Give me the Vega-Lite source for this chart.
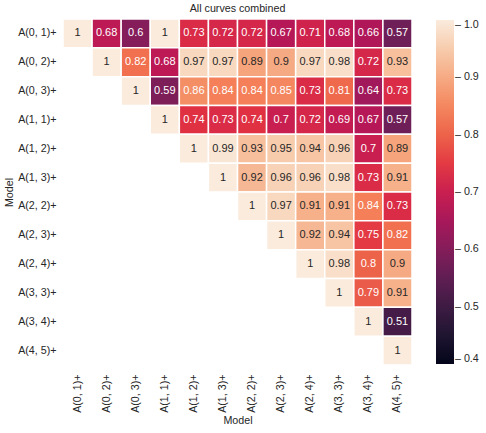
{
  "$schema": "https://vega.github.io/schema/vega-lite/v6.json",
  "width": 349,
  "height": 346,
  "autosize": "none",
  "padding": {"left": 63, "top": 19, "right": 74, "bottom": 68},
  "background": "white",
  "config": {
    "view": {"stroke": null},
    "font": "Liberation Sans",
    "axis": {"labelFont": "Liberation Sans", "titleFont": "Liberation Sans", "labelFontSize": 10.7, "titleFontSize": 10.7, "labelColor": "#262626", "titleColor": "#262626", "titleFontWeight": "normal", "ticks": false, "domain": false, "grid": false},
    "legend": {"labelFont": "Liberation Sans", "labelFontSize": 10.7, "labelColor": "#262626"}
  },
  "title": {"text": "All curves combined", "fontSize": 10.7, "fontWeight": "normal", "color": "#262626", "offset": 4, "font": "Liberation Sans"},
  "data": {"values": [
    {"r": "A(0, 1)+", "c": "A(0, 1)+", "v": 1},
    {"r": "A(0, 1)+", "c": "A(0, 2)+", "v": 0.68},
    {"r": "A(0, 1)+", "c": "A(0, 3)+", "v": 0.6},
    {"r": "A(0, 1)+", "c": "A(1, 1)+", "v": 1},
    {"r": "A(0, 1)+", "c": "A(1, 2)+", "v": 0.73},
    {"r": "A(0, 1)+", "c": "A(1, 3)+", "v": 0.72},
    {"r": "A(0, 1)+", "c": "A(2, 2)+", "v": 0.72},
    {"r": "A(0, 1)+", "c": "A(2, 3)+", "v": 0.67},
    {"r": "A(0, 1)+", "c": "A(2, 4)+", "v": 0.71},
    {"r": "A(0, 1)+", "c": "A(3, 3)+", "v": 0.68},
    {"r": "A(0, 1)+", "c": "A(3, 4)+", "v": 0.66},
    {"r": "A(0, 1)+", "c": "A(4, 5)+", "v": 0.57},
    {"r": "A(0, 2)+", "c": "A(0, 2)+", "v": 1},
    {"r": "A(0, 2)+", "c": "A(0, 3)+", "v": 0.82},
    {"r": "A(0, 2)+", "c": "A(1, 1)+", "v": 0.68},
    {"r": "A(0, 2)+", "c": "A(1, 2)+", "v": 0.97},
    {"r": "A(0, 2)+", "c": "A(1, 3)+", "v": 0.97},
    {"r": "A(0, 2)+", "c": "A(2, 2)+", "v": 0.89},
    {"r": "A(0, 2)+", "c": "A(2, 3)+", "v": 0.9},
    {"r": "A(0, 2)+", "c": "A(2, 4)+", "v": 0.97},
    {"r": "A(0, 2)+", "c": "A(3, 3)+", "v": 0.98},
    {"r": "A(0, 2)+", "c": "A(3, 4)+", "v": 0.72},
    {"r": "A(0, 2)+", "c": "A(4, 5)+", "v": 0.93},
    {"r": "A(0, 3)+", "c": "A(0, 3)+", "v": 1},
    {"r": "A(0, 3)+", "c": "A(1, 1)+", "v": 0.59},
    {"r": "A(0, 3)+", "c": "A(1, 2)+", "v": 0.86},
    {"r": "A(0, 3)+", "c": "A(1, 3)+", "v": 0.84},
    {"r": "A(0, 3)+", "c": "A(2, 2)+", "v": 0.84},
    {"r": "A(0, 3)+", "c": "A(2, 3)+", "v": 0.85},
    {"r": "A(0, 3)+", "c": "A(2, 4)+", "v": 0.73},
    {"r": "A(0, 3)+", "c": "A(3, 3)+", "v": 0.81},
    {"r": "A(0, 3)+", "c": "A(3, 4)+", "v": 0.64},
    {"r": "A(0, 3)+", "c": "A(4, 5)+", "v": 0.73},
    {"r": "A(1, 1)+", "c": "A(1, 1)+", "v": 1},
    {"r": "A(1, 1)+", "c": "A(1, 2)+", "v": 0.74},
    {"r": "A(1, 1)+", "c": "A(1, 3)+", "v": 0.73},
    {"r": "A(1, 1)+", "c": "A(2, 2)+", "v": 0.74},
    {"r": "A(1, 1)+", "c": "A(2, 3)+", "v": 0.7},
    {"r": "A(1, 1)+", "c": "A(2, 4)+", "v": 0.72},
    {"r": "A(1, 1)+", "c": "A(3, 3)+", "v": 0.69},
    {"r": "A(1, 1)+", "c": "A(3, 4)+", "v": 0.67},
    {"r": "A(1, 1)+", "c": "A(4, 5)+", "v": 0.57},
    {"r": "A(1, 2)+", "c": "A(1, 2)+", "v": 1},
    {"r": "A(1, 2)+", "c": "A(1, 3)+", "v": 0.99},
    {"r": "A(1, 2)+", "c": "A(2, 2)+", "v": 0.93},
    {"r": "A(1, 2)+", "c": "A(2, 3)+", "v": 0.95},
    {"r": "A(1, 2)+", "c": "A(2, 4)+", "v": 0.94},
    {"r": "A(1, 2)+", "c": "A(3, 3)+", "v": 0.96},
    {"r": "A(1, 2)+", "c": "A(3, 4)+", "v": 0.7},
    {"r": "A(1, 2)+", "c": "A(4, 5)+", "v": 0.89},
    {"r": "A(1, 3)+", "c": "A(1, 3)+", "v": 1},
    {"r": "A(1, 3)+", "c": "A(2, 2)+", "v": 0.92},
    {"r": "A(1, 3)+", "c": "A(2, 3)+", "v": 0.96},
    {"r": "A(1, 3)+", "c": "A(2, 4)+", "v": 0.96},
    {"r": "A(1, 3)+", "c": "A(3, 3)+", "v": 0.98},
    {"r": "A(1, 3)+", "c": "A(3, 4)+", "v": 0.73},
    {"r": "A(1, 3)+", "c": "A(4, 5)+", "v": 0.91},
    {"r": "A(2, 2)+", "c": "A(2, 2)+", "v": 1},
    {"r": "A(2, 2)+", "c": "A(2, 3)+", "v": 0.97},
    {"r": "A(2, 2)+", "c": "A(2, 4)+", "v": 0.91},
    {"r": "A(2, 2)+", "c": "A(3, 3)+", "v": 0.91},
    {"r": "A(2, 2)+", "c": "A(3, 4)+", "v": 0.84},
    {"r": "A(2, 2)+", "c": "A(4, 5)+", "v": 0.73},
    {"r": "A(2, 3)+", "c": "A(2, 3)+", "v": 1},
    {"r": "A(2, 3)+", "c": "A(2, 4)+", "v": 0.92},
    {"r": "A(2, 3)+", "c": "A(3, 3)+", "v": 0.94},
    {"r": "A(2, 3)+", "c": "A(3, 4)+", "v": 0.75},
    {"r": "A(2, 3)+", "c": "A(4, 5)+", "v": 0.82},
    {"r": "A(2, 4)+", "c": "A(2, 4)+", "v": 1},
    {"r": "A(2, 4)+", "c": "A(3, 3)+", "v": 0.98},
    {"r": "A(2, 4)+", "c": "A(3, 4)+", "v": 0.8},
    {"r": "A(2, 4)+", "c": "A(4, 5)+", "v": 0.9},
    {"r": "A(3, 3)+", "c": "A(3, 3)+", "v": 1},
    {"r": "A(3, 3)+", "c": "A(3, 4)+", "v": 0.79},
    {"r": "A(3, 3)+", "c": "A(4, 5)+", "v": 0.91},
    {"r": "A(3, 4)+", "c": "A(3, 4)+", "v": 1},
    {"r": "A(3, 4)+", "c": "A(4, 5)+", "v": 0.51},
    {"r": "A(4, 5)+", "c": "A(4, 5)+", "v": 1}
  ]},
  "encoding": {
    "x": {"field": "c", "type": "nominal", "scale": {"domain": ["A(0, 1)+", "A(0, 2)+", "A(0, 3)+", "A(1, 1)+", "A(1, 2)+", "A(1, 3)+", "A(2, 2)+", "A(2, 3)+", "A(2, 4)+", "A(3, 3)+", "A(3, 4)+", "A(4, 5)+"], "paddingInner": 0, "paddingOuter": 0}, "axis": {"title": "Model", "labelAngle": -90, "labelPadding": 9, "titlePadding": 3}},
    "y": {"field": "r", "type": "nominal", "scale": {"domain": ["A(0, 1)+", "A(0, 2)+", "A(0, 3)+", "A(1, 1)+", "A(1, 2)+", "A(1, 3)+", "A(2, 2)+", "A(2, 3)+", "A(2, 4)+", "A(3, 3)+", "A(3, 4)+", "A(4, 5)+"], "paddingInner": 0, "paddingOuter": 0}, "axis": {"title": "Model", "labelPadding": 7, "titlePadding": 3}}
  },
  "layer": [
    {
      "mark": {"type": "rect", "stroke": "white", "strokeWidth": 1.5},
      "encoding": {
        "color": {
          "field": "v", "type": "quantitative",
          "scale": {"domain": [0.4, 1.0], "range": ["#03051a", "#35193e", "#701f57", "#ad1759", "#e13342", "#f37651", "#f6b48f", "#faebdd"]},
          "legend": {"title": null, "orient": "none", "legendX": 373, "legendY": 1, "gradientLength": 344, "gradientThickness": 18, "gradientStrokeWidth": 0, "values": [0.4, 0.5, 0.6, 0.7, 0.8, 0.9, 1.0], "format": ".1f", "labelExpr": "'– ' + datum.label", "labelBaseline": "middle", "labelOffset": 1, "labelOverlap": false}
        }
      }
    },
    {
      "mark": {"type": "text", "fontSize": 11, "font": "Liberation Sans"},
      "encoding": {
        "text": {"field": "v", "type": "quantitative", "format": ".2~f"},
        "color": {"condition": {"test": "datum.v < 0.87", "value": "white"}, "value": "#262626"}
      }
    }
  ]
}
